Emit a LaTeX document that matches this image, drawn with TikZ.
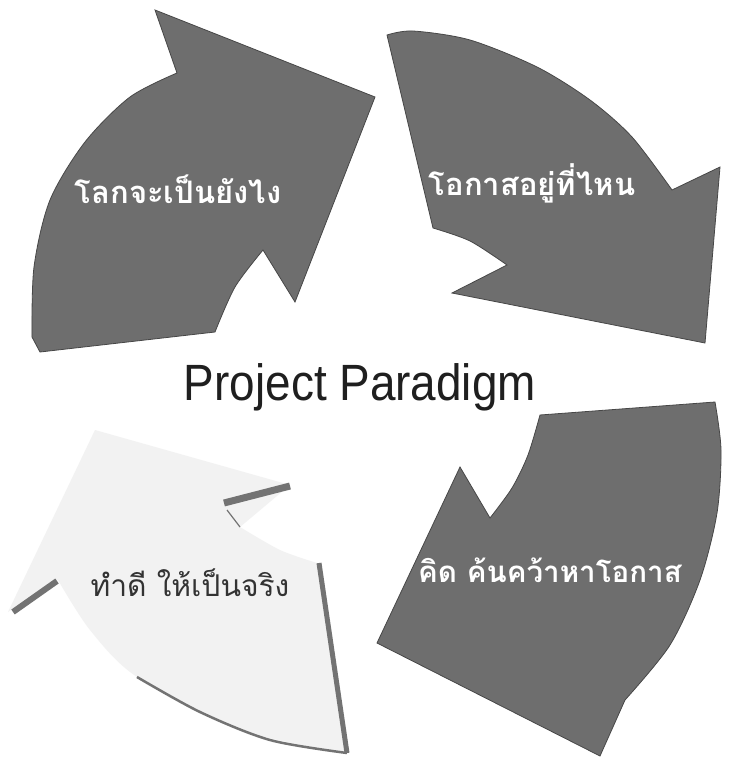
\documentclass[tikz,border=0pt]{standalone}
\usepackage{fontspec}
\setmainfont{Liberation Sans}
\newfontfamily\thaifont[Script=Thai]{Loma}
\definecolor{arrowgray}{gray}{0.43}
\definecolor{arrowedge}{gray}{0.28}
\definecolor{faintgray}{gray}{0.95}
\definecolor{stripgray}{gray}{0.45}
\tikzset{
  arrowbody/.style={fill=arrowgray, draw=arrowedge, line width=0.8pt, line join=miter},
  faintbody/.style={fill=faintgray},
  strip/.style={draw=stripgray, line cap=butt},
  thailabel/.style={font=\thaifont\bfseries\fontsize{31}{36}\selectfont, text=white, inner sep=0pt},
  darklabel/.style={font=\thaifont\fontsize{30}{36}\selectfont, text=black!80, inner sep=0pt},
  titlelabel/.style={font=\fontsize{51}{60}\selectfont, text=black!88, inner sep=0pt, xscale=0.9}
}
\begin{document}
\begin{tikzpicture}[x=1pt,y=-1pt]
\useasboundingbox (0,0) rectangle (731,758);
\fill[white] (0,0) rectangle (731,758);

% bottom-left (faded) arrow
\fill[faintbody] (317,563) -- (347,753)
  -- plot[smooth] coordinates {(347,753) (240,730) (137,677) (90,630) (58,580)}
  -- (8,612) -- (95,430) -- (290,485) -- (240,527)
  -- plot[smooth] coordinates {(240,527) (280,550) (317,563)} -- cycle;
\draw[strip, line width=5pt] (319,563) -- (347,753);
\draw[strip, line width=2.5pt] plot[smooth] coordinates {(137,677) (200,712) (270,740) (347,753)};
\draw[strip, line width=6pt] (13,612) -- (57,581);
\draw[strip, line width=7pt] (224,503) -- (290,486);
\draw[strip, line width=1.2pt] (227,510) -- (240,527);

% top-left arrow
\path[arrowbody] plot[smooth] coordinates {(32,337) (34,267) (50,200) (85,142) (130,97) (177,73)}
  -- (155,10) -- (375,97) -- (295,302) -- (263,250)
  -- plot[smooth] coordinates {(263,250) (235,287) (215,332)}
  -- (40,352) -- cycle;

% top-right arrow
\path[arrowbody] plot[smooth] coordinates {(387,35) (413,31) (470,40) (537,67) (590,100) (632,137) (672,190)}
  -- (720,167) -- (705,343) -- (452,293) -- (507,265)
  -- plot[smooth] coordinates {(507,265) (470,241) (433,228)} -- cycle;

% bottom-right arrow
\path[arrowbody] (540,415) -- (715,402)
  -- plot[smooth] coordinates {(715,402) (721,450) (717,513) (700,580) (670,645) (625,700)}
  -- (600,756) -- (377,643) -- (460,467) -- (490,518)
  -- plot[smooth] coordinates {(490,518) (512,488) (528,455) (540,415)} -- cycle;

% labels
\node[thailabel] (tl) at (178,189) {โลกจะเป็นยังไง};
\node[thailabel] (tr) at (532,183) {โอกาสอยู่ที่ไหน};
\node[thailabel, font=\thaifont\bfseries\fontsize{29.5}{36}\selectfont] (br) at (550,570) {คิด ค้นคว้าหาโอกาส};
\node[darklabel] (bl) at (190,583) {ทำดี ให้เป็นจริง};
\node[titlelabel, anchor=base] (title) at (360,400) {Project Paradigm};
\end{tikzpicture}
\end{document}
